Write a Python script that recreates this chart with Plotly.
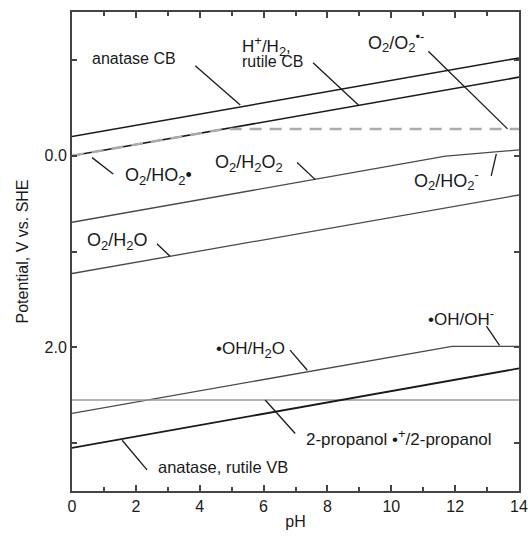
import plotly.graph_objects as go

# ---- data (pH vs potential, V vs SHE) ----
ph_ends = [0, 14]
anatase_cb = [-0.20, -1.02]
h_h2_rutile_cb = [0.0, -0.82]
o2_o2_ph = [0, 4.8, 14]
o2_o2 = [0.0, -0.28, -0.28]
o2_h2o2_ph = [0, 11.7, 14]
o2_h2o2 = [0.695, 0.005, -0.06]
o2_h2o = [1.23, 0.41]
oh_ph = [0, 11.9, 14]
oh_h2o = [2.69, 1.99, 1.99]
propanol = [2.55, 2.55]
vb = [3.05, 2.22]

x_tickvals = [0, 2, 4, 6, 8, 10, 12, 14]
x_ticktext = ["0", "2", "4", "6", "8", "10", "12", "14"]
y_tickvals = [0, 2]
y_ticktext = ["0.0", "2.0"]
y_minor = [-1, 1, 3]


def sub(s):
    return '<sub><span style="font-size:13px">' + s + '</span></sub>'


def sup(s):
    return '<sup><span style="font-size:13px">' + s + '</span></sup>'


# label text, x, y, font size, anchor
labels = [
    ("anatase CB", 1.94, -1.01, 16, "center"),
    ("H" + sup("+") + "/H" + sub("2") + ",", 5.27, -1.15, 17, "left"),
    ("rutile CB", 5.27, -0.98, 16, "left"),
    ("O" + sub("2") + "/O" + sub("2") + sup("•-"), 10.16, -1.19, 18, "center"),
    ("O" + sub("2") + "/HO" + sub("2") + "•", 2.70, 0.22, 18, "center"),
    ("O" + sub("2") + "/H" + sub("2") + "O" + sub("2"), 5.55, 0.08, 18, "center"),
    ("O" + sub("2") + "/HO" + sub("2") + sup("-"), 11.72, 0.25, 18, "center"),
    ("O" + sub("2") + "/H" + sub("2") + "O", 1.41, 0.895, 18, "center"),
    ("•OH/H" + sub("2") + "O", 5.58, 2.03, 17, "center"),
    ("•OH/OH" + sup("-"), 12.19, 1.69, 17, "center"),
    ("2-propanol •" + sup("+") + "/2-propanol", 10.25, 2.94, 17, "center"),
    ("anatase, rutile VB", 4.73, 3.25, 16.5, "center"),
]

# leader lines: x0, y0, x1, y1
leaders = [
    (3.86, -0.94, 5.27, -0.53),
    (7.55, -0.97, 8.97, -0.53),
    (11.16, -1.09, 13.64, -0.28),
    (0.63, 0.02, 1.29, 0.19),
    (7.05, 0.07, 7.62, 0.25),
    (13.13, 0.21, 13.29, -0.02),
    (2.66, 0.92, 3.07, 1.05),
    (6.83, 2.03, 7.37, 2.24),
    (12.98, 1.78, 13.39, 1.98),
    (6.05, 2.55, 6.99, 2.90),
    (1.57, 2.97, 2.35, 3.28),
]

fig = go.Figure()
black = "#1a1a1a"
dgray = "#4a4a4a"

fig.add_trace(go.Scatter(x=ph_ends, y=anatase_cb, mode="lines", line=dict(color=black, width=1.6)))
fig.add_trace(go.Scatter(x=ph_ends, y=h_h2_rutile_cb, mode="lines", line=dict(color=black, width=1.6)))
fig.add_trace(go.Scatter(x=o2_o2_ph, y=o2_o2, mode="lines", line=dict(color="#aaaaaa", width=2.5, dash="12px,8px")))
fig.add_trace(go.Scatter(x=o2_h2o2_ph, y=o2_h2o2, mode="lines", line=dict(color=dgray, width=1.3)))
fig.add_trace(go.Scatter(x=ph_ends, y=o2_h2o, mode="lines", line=dict(color=dgray, width=1.3)))
fig.add_trace(go.Scatter(x=oh_ph, y=oh_h2o, mode="lines", line=dict(color=dgray, width=1.3)))
fig.add_trace(go.Scatter(x=ph_ends, y=propanol, mode="lines", line=dict(color="#999999", width=1.3)))
fig.add_trace(go.Scatter(x=ph_ends, y=vb, mode="lines", line=dict(color=black, width=1.8)))

for (x0, y0, x1, y1) in leaders:
    fig.add_shape(type="line", x0=x0, y0=y0, x1=x1, y1=y1, xref="x", yref="y",
                  line=dict(color=black, width=1.3))

for (t, x, y, fs, xa) in labels:
    fig.add_annotation(text=t, x=x, y=y, xref="x", yref="y", showarrow=False,
                       xanchor=xa, yanchor="middle",
                       font=dict(size=fs, color="#1a1a1a"))

axis_col = "#444444"
fig.update_layout(
    width=528, height=537,
    margin=dict(l=72, r=9, t=12, b=46),
    paper_bgcolor="white", plot_bgcolor="white",
    showlegend=False,
    font=dict(family="Liberation Sans, Arial, sans-serif", size=16, color="#1a1a1a"),
    xaxis=dict(range=[0, 14], tickvals=x_tickvals, ticktext=x_ticktext,
               ticks="inside", ticklen=6, tickwidth=1.5, tickcolor=axis_col,
               minor=dict(dtick=1, ticks="inside", ticklen=4, tickwidth=1.5, tickcolor=axis_col),
               showline=True, linecolor=axis_col, linewidth=2, mirror="ticks",
               showgrid=False, zeroline=False, automargin=False,
               title=dict(text="pH", standoff=2, font=dict(size=16)),
               tickfont=dict(size=16)),
    yaxis=dict(range=[3.5, -1.5], tickvals=y_tickvals, ticktext=y_ticktext,
               ticks="inside", ticklen=5, tickwidth=1.5, tickcolor=axis_col,
               minor=dict(tickvals=y_minor, ticks="inside", ticklen=5, tickwidth=1.5, tickcolor=axis_col),
               showline=True, linecolor=axis_col, linewidth=2, mirror="ticks",
               showgrid=False, zeroline=False, automargin=False,
               title=dict(text="Potential, V vs. SHE", standoff=12, font=dict(size=16)),
               tickfont=dict(size=16)),
)

fig.write_html("out.html", config={"displayModeBar": False},
               post_script="document.body.style.margin='0';document.body.style.overflow='hidden';")
